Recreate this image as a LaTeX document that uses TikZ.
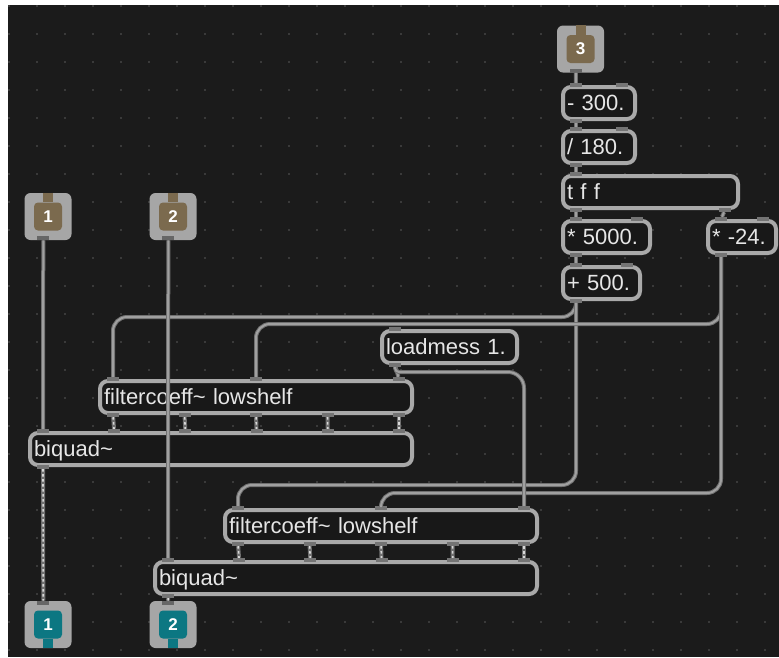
\documentclass[tikz,border=0pt]{standalone}
\usepackage{fontspec}
\newfontfamily\maxfont{Liberation Sans}[Ligatures=NoCommon]
\usetikzlibrary{calc}
\definecolor{canvas}{HTML}{1B1B1B}
\definecolor{griddot}{HTML}{3A3A3A}
\definecolor{boxfill}{HTML}{181818}
\definecolor{boxline}{HTML}{A9A9A9}
\definecolor{boxtext}{HTML}{E6E6E6}
\definecolor{portgrey}{HTML}{747474}
\definecolor{portdark}{HTML}{666666}
\definecolor{cordedge}{HTML}{707070}
\definecolor{cordcore}{HTML}{A0A0A0}
\definecolor{sigdash}{HTML}{D8D8D8}
\definecolor{iobox}{HTML}{A6A6A6}
\definecolor{inbrown}{HTML}{7B6A4E}
\definecolor{outteal}{HTML}{0C7782}
\tikzset{
    patcher/.style = {x=1pt, y=-1pt},
    obj/.style     = {draw=boxline, line width=4pt, fill=boxfill,
                      rounded corners=8pt, anchor=north west,
                      minimum height=32pt, inner xsep=4pt, inner ysep=2pt,
                      text height=15pt, text depth=0pt, align=left,
                      text=boxtext, font=\maxfont\fontsize{22}{24}\selectfont},
    port/.style    = {fill=portgrey, minimum width=12pt, minimum height=4pt,
                      inner sep=0pt},
    iobox/.style   = {fill=iobox, rounded corners=6pt, minimum size=47pt,
                      inner sep=0pt},
    face/.style    = {rounded corners=4pt, minimum size=28pt, inner sep=0pt,
                      text=white,
                      font=\maxfont\bfseries\fontsize{17}{17}\selectfont},
    cord/.style    = {draw=cordedge, line width=4pt, rounded corners=14pt,
                      postaction={draw=cordcore, line width=2pt}},
    sigcord/.style = {draw=cordedge, line width=4pt,
                      postaction={draw=sigdash, line width=1.6pt,
                                  dash pattern=on 2.5pt off 2.5pt}}
}
\begin{document}
\begin{tikzpicture}[patcher]
\useasboundingbox (0,0) rectangle (779,657);
\fill[canvas] (8,5) rectangle (779,657);
\foreach \gx in {9,37,...,779}
  \foreach \gy in {6,34,...,657}
    \fill[griddot] (\gx-1,\gy-1) rectangle ++(2,2);

% ================= Inlets and outlets =================
\node[iobox] (in1)  at (48, 216.5) {};
\node[iobox] (in2)  at (173,216.5) {};
\node[iobox] (in3)  at (580.5,49)  {};
\node[iobox] (out1) at (48, 624.5) {};
\node[iobox] (out2) at (173,624.5) {};
\foreach \io/\num in {in1/1, in2/2, in3/3} {
  \node[face, fill=inbrown] (\io face) at (\io) {\num};
  \fill[inbrown] ([xshift=-5pt]\io.north) rectangle ([xshift=5pt]\io face.north);
  \node[port, fill=portdark] (\io-o1) at ([shift={(19,-2)}]\io.south west) {};
}
\foreach \io/\num in {out1/1, out2/2} {
  \node[face, fill=outteal] (\io face) at (\io) {\num};
  \fill[outteal] ([xshift=-5pt]\io face.south) rectangle ([xshift=5pt]\io.south);
  \node[port, fill=portdark] (\io-i1) at ([shift={(19,2)}]\io.north west) {};
}

% ================= Control chain (right column) =================
\node[obj, text width=64pt]  (minus)    at (561,85)  {- 300.};
\node[obj, text width=64pt]  (divide)   at (561,129) {/ 180.};
\node[obj, text width=167pt] (tff)      at (561,174) {t f f};
\node[obj, text width=79pt]  (times)    at (561,219) {* 5000.};
\node[obj, text width=60pt]  (timesneg) at (706,219) {* -24.};
\node[obj, text width=69pt]  (plus)     at (561,265) {+ 500.};
\node[obj, text width=127pt] (load)     at (380,329) {loadmess 1.};

% ================= Filters =================
\node[obj, text width=304pt] (fcA) at (98,379)  {filtercoeff\textasciitilde{} lowshelf};
\node[obj, text width=374pt] (bqA) at (28,431)  {biquad\textasciitilde};
\node[obj, text width=304pt] (fcB) at (223,508) {filtercoeff\textasciitilde{} lowshelf};
\node[obj, text width=374pt] (bqB) at (153,560) {biquad\textasciitilde};

% inlet / outlet marks on the object borders
\foreach \ob/\nI/\nO in {minus/2/1, divide/2/1, tff/1/2, times/2/1, timesneg/2/1,
                         plus/2/1, load/1/1, fcA/3/5, bqA/6/1, fcB/3/5, bqB/6/1} {
  \foreach \k in {1,...,\nI} {
    \pgfmathsetmacro\f{(\k-1)/max(\nI-1,1)}
    \node[port] (\ob-i\k) at ($([xshift=15pt]\ob.north west)!\f!([xshift=-15pt]\ob.north east)$) {};
  }
  \foreach \k in {1,...,\nO} {
    \pgfmathsetmacro\f{(\k-1)/max(\nO-1,1)}
    \node[port] (\ob-o\k) at ($([xshift=15pt]\ob.south west)!\f!([xshift=-15pt]\ob.south east)$) {};
  }
}

% ================= Patch cords =================
\draw[cord] (in3-o1) -- (minus-i1);
\draw[cord] (minus-o1) -- (divide-i1);
\draw[cord] (divide-o1) -- (tff-i1);
\draw[cord] (tff-o1) -- (times-i1);
\draw[cord] (tff-o2) -- (timesneg-i1);
\draw[cord] (times-o1) -- (plus-i1);

% frequency, gain and type into both filters
\draw[cord] (plus-o1) -- ++(0,16) -| (fcA-i1);
\draw[cord] (plus-o1) -- ++(0,184) -| (fcB-i1);
\draw[cord] (timesneg-o1) -- ++(0,69) -| (fcA-i2);
\draw[cord] (timesneg-o1) -- ++(0,238) -| (fcB-i2);
\draw[cord] (load-o1) -- (fcA-i3);
\draw[cord, rounded corners=4pt] (load-o1) -- ++(0,7) [rounded corners=16pt] -| (fcB-i3);

% audio
\draw[cord] (in1-o1) -- (bqA-i1);
\draw[cord] (in2-o1) -- (bqB-i1);
\foreach \k in {1,...,5} {
  \pgfmathtruncatemacro\j{\k+1}
  \draw[sigcord] (fcA-o\k) -- (bqA-i\j);
  \draw[sigcord] (fcB-o\k) -- (bqB-i\j);
}
\draw[sigcord] (bqA-o1) -- (out1-i1);
\draw[sigcord] (bqB-o1) -- (out2-i1);

\end{tikzpicture}
\end{document}
